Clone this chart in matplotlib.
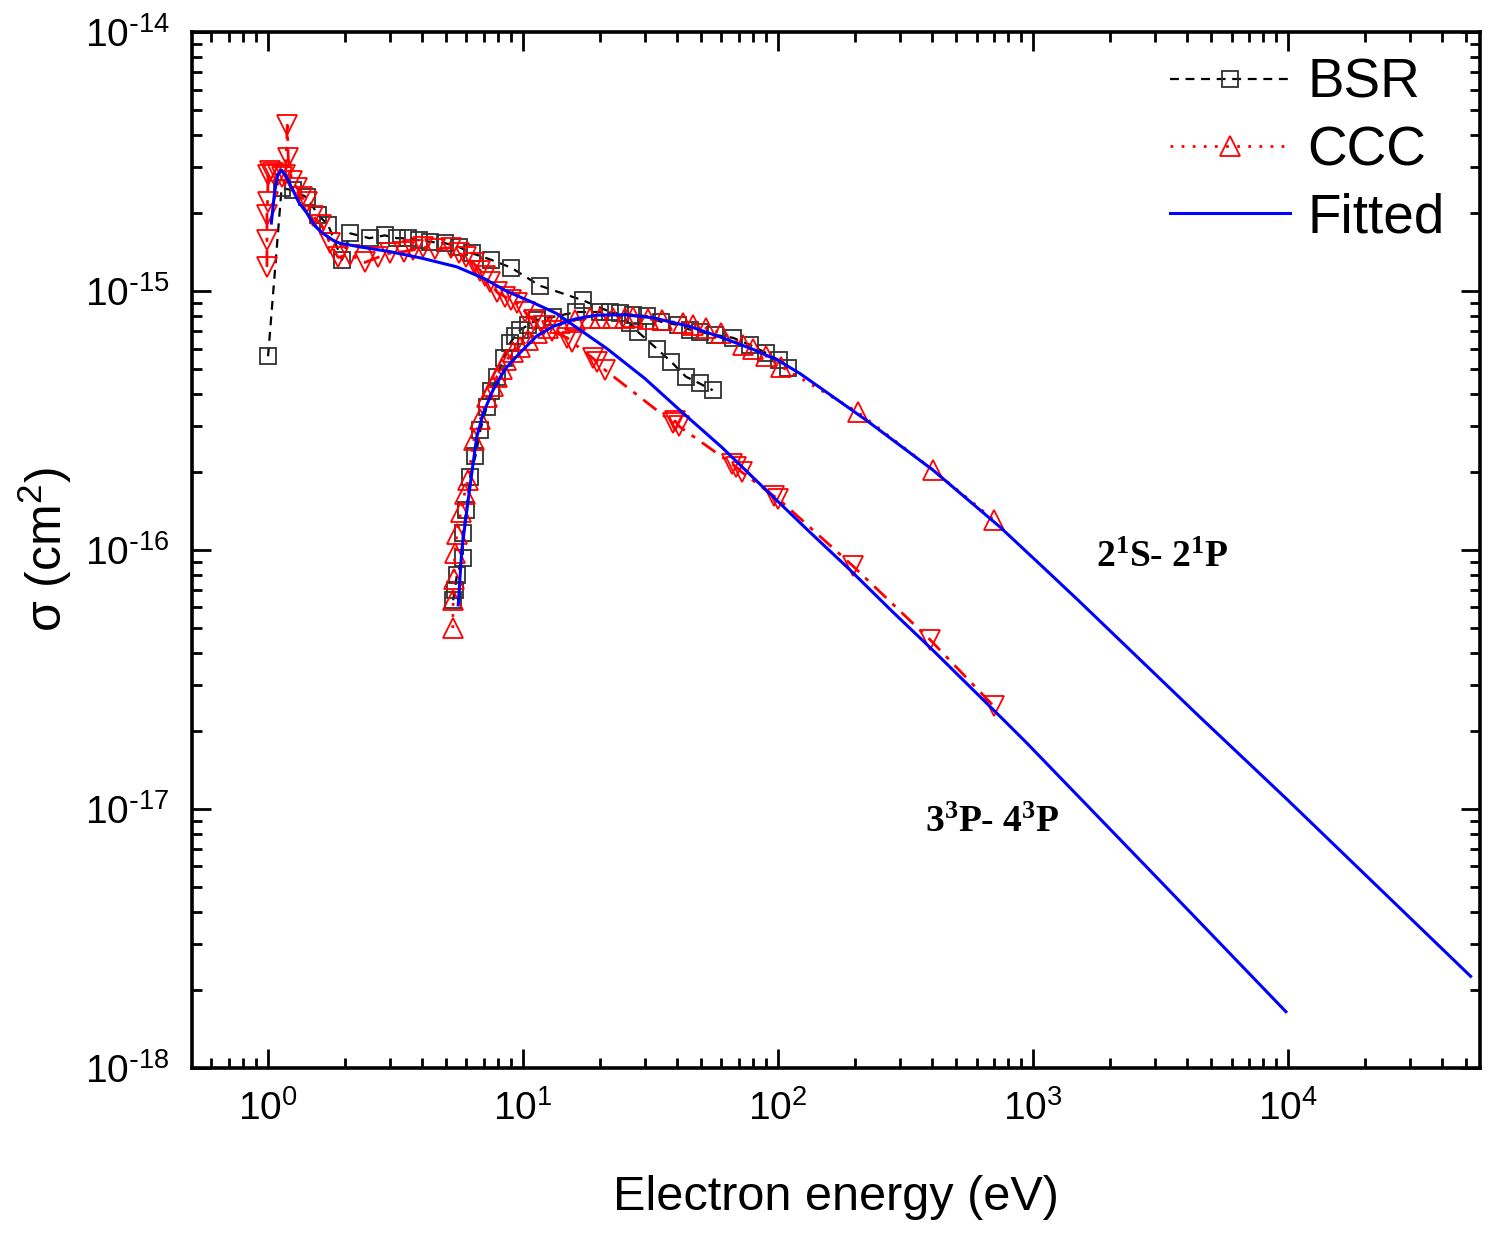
import matplotlib
matplotlib.use("Agg")
import math
import matplotlib.pyplot as plt
from matplotlib.ticker import FixedLocator, LogLocator, NullFormatter, FuncFormatter

plt.rcParams['font.family'] = ['Liberation Sans', 'DejaVu Sans']
plt.rcParams['mathtext.default'] = 'regular'
plt.rcParams['axes.unicode_minus'] = False

# ---------------- data ----------------
# Transition 3^3P - 4^3P (threshold ~1 eV)
bsr_a_e = [1.0, 1.13, 1.25, 1.42, 1.57, 1.72, 1.95, 2.1, 2.5, 2.87, 3.2, 3.54, 3.9,
           4.3, 4.95, 5.6, 6.3, 7.5, 9.0, 11.6, 17.2, 22, 26.3, 28.2, 33.4, 38.1,
           43.5, 49.2, 55.4]
bsr_a_s = [5.6e-16, 2.5e-15, 2.45e-15, 2.3e-15, 1.97e-15, 1.8e-15, 1.32e-15, 1.67e-15,
           1.6e-15, 1.64e-15, 1.6e-15, 1.6e-15, 1.57e-15, 1.55e-15, 1.53e-15, 1.48e-15,
           1.4e-15, 1.32e-15, 1.23e-15, 1.05e-15, 9.2e-16, 8.3e-16, 7.5e-16, 6.96e-16,
           6.0e-16, 5.33e-16, 4.67e-16, 4.4e-16, 4.14e-16]

ccc_a_e = [0.99, 0.99, 0.99, 0.995, 1.0, 1.02, 1.05, 1.09, 1.13, 1.17, 1.19, 1.2, 1.24,
           1.3, 1.36, 1.42, 1.5, 1.62, 1.75, 1.88, 2.1, 2.4, 2.7, 3.0, 3.4, 3.7, 4.05,
           4.5, 5.2, 5.6, 6.0, 6.4, 6.8, 7.1, 7.4, 7.9, 8.5, 9.0, 9.5, 10.2, 11, 12, 13,
           14.9, 15.5, 18.8, 19.5, 21, 38.7, 39.5, 41, 66, 68.6, 72, 96, 100, 196, 395, 700]
ccc_a_s = [1.24e-15, 1.57e-15, 1.96e-15, 2.2e-15, 2.8e-15, 2.9e-15, 2.85e-15, 2.8e-15,
           2.75e-15, 2.8e-15, 4.37e-15, 3.26e-15, 2.65e-15, 2.5e-15, 2.3e-15, 2.2e-15,
           1.95e-15, 1.8e-15, 1.53e-15, 1.35e-15, 1.38e-15, 1.29e-15, 1.35e-15, 1.4e-15,
           1.42e-15, 1.44e-15, 1.48e-15, 1.45e-15, 1.47e-15, 1.4e-15, 1.35e-15, 1.28e-15,
           1.2e-15, 1.14e-15, 1.08e-15, 9.9e-16, 9.5e-16, 9.2e-16, 9.0e-16, 8.3e-16,
           7.7e-16, 7.3e-16, 7.0e-16, 6.6e-16, 6.37e-16, 5.5e-16, 5.3e-16, 4.95e-16,
           3.1e-16, 3.15e-16, 3.0e-16, 2.15e-16, 2.09e-16, 2.0e-16, 1.62e-16, 1.58e-16,
           8.7e-17, 4.5e-17, 2.5e-17]

fit_a_e = [1.03, 1.06, 1.09, 1.13, 1.17, 1.24, 1.32, 1.42, 1.53, 1.64, 1.8, 1.91, 2.3,
           3.0, 4.0, 5.5, 7.0, 8.6, 11, 13.5, 17, 21.3, 30, 42.4, 60, 90, 130, 191, 280,
           405, 745, 944, 2870, 9807]
fit_a_s = [1.83e-15, 2.4e-15, 2.8e-15, 2.93e-15, 2.8e-15, 2.5e-15, 2.2e-15, 2.0e-15,
           1.78e-15, 1.67e-15, 1.57e-15, 1.53e-15, 1.48e-15, 1.42e-15, 1.34e-15, 1.24e-15,
           1.12e-15, 1.0e-15, 9.0e-16, 8.2e-16, 7.0e-16, 6.0e-16, 4.6e-16, 3.38e-16,
           2.5e-16, 1.7e-16, 1.2e-16, 8.4e-17, 5.8e-17, 4.1e-17, 2.27e-17, 1.80e-17,
           5.8e-18, 1.65e-18]

# Transition 2^1S - 2^1P (threshold ~5.3 eV)
bsr_b_e = [5.32, 5.4, 5.5, 5.8, 5.8, 6.0, 6.2, 6.5, 6.8, 7.2, 7.5, 7.9, 8.4, 8.9, 9.3,
           9.7, 10.5, 11.3, 13.1, 16.2, 20, 24, 27, 30.5, 34.9, 40.5, 45, 49.2, 56.6,
           66.5, 77.5, 90, 101, 109]
bsr_b_s = [6.4e-17, 7.0e-17, 8.0e-17, 9.3e-17, 1.16e-16, 1.43e-16, 1.92e-16, 2.3e-16,
           2.9e-16, 3.57e-16, 4.1e-16, 4.67e-16, 5.5e-16, 6.3e-16, 6.7e-16, 7.06e-16,
           7.4e-16, 7.73e-16, 7.95e-16, 8.3e-16, 8.3e-16, 8.2e-16, 8.1e-16, 8.0e-16,
           7.6e-16, 7.4e-16, 7.1e-16, 6.96e-16, 6.77e-16, 6.6e-16, 6.2e-16, 5.76e-16,
           5.4e-16, 5.05e-16]

ccc_b_e = [5.3, 5.32, 5.35, 5.4, 5.5, 5.7, 5.9, 6.1, 6.4, 6.8, 7.2, 7.6, 7.9, 8.3, 8.6,
           9.1, 9.7, 10.5, 11.3, 12.5, 13.9, 16, 18.3, 20, 22.5, 25, 27, 31, 35, 42.4,
           46.5, 52, 60, 73, 80, 90, 103, 206, 405, 700]
ccc_b_s = [5.0e-17, 6.4e-17, 7.7e-17, 9.7e-17, 1.15e-16, 1.4e-16, 1.65e-16, 1.87e-16,
           2.65e-16, 3.2e-16, 3.9e-16, 4.3e-16, 4.67e-16, 5.0e-16, 5.4e-16, 5.8e-16,
           6.1e-16, 6.5e-16, 6.9e-16, 7.2e-16, 7.5e-16, 7.7e-16, 7.86e-16, 7.9e-16,
           7.86e-16, 7.9e-16, 7.95e-16, 7.8e-16, 7.7e-16, 7.5e-16, 7.4e-16, 7.2e-16,
           6.9e-16, 6.2e-16, 6.0e-16, 5.6e-16, 5.1e-16, 3.4e-16, 2.04e-16, 1.31e-16]

fit_b_e = [5.57, 5.75, 6.0, 6.3, 6.58, 7.0, 7.63, 8.5, 9.7, 11.3, 13.1, 16, 19.4, 25,
           32.4, 45, 59, 80, 100, 122, 221, 404, 740, 1150, 1500, 4500, 1e4, 5.2e4]
fit_b_s = [6.14e-17, 1.0e-16, 1.39e-16, 2.0e-16, 2.73e-16, 3.4e-16, 4.15e-16, 5.0e-16,
           5.76e-16, 6.7e-16, 7.3e-16, 7.8e-16, 8.07e-16, 8.1e-16, 7.88e-16, 7.3e-16,
           6.66e-16, 5.95e-16, 5.4e-16, 4.8e-16, 3.18e-16, 2.04e-16, 1.23e-16, 8.2e-17,
           6.41e-17, 2.27e-17, 1.08e-17, 2.26e-18]

x_major = [1, 10, 100, 1000, 10000]
y_major = [1e-18, 1e-17, 1e-16, 1e-15, 1e-14]

legend_labels = ["BSR", "CCC", "Fitted"]
label_b = "2$^1$S- 2$^1$P"
label_a = "3$^3$P- 4$^3$P"
label_b_pos = (3200, 9.4e-17)
label_a_pos = (690, 8.9e-18)

# ---------------- figure ----------------
fig = plt.figure(figsize=(14.95, 12.33), dpi=100)
ax = fig.add_axes([0.1284, 0.1338, 0.8616, 0.8402])

sq = dict(marker='s', markersize=11.5, markerfacecolor='none', markeredgecolor='#303030',
          markeredgewidth=1.3)
ax.plot(bsr_a_e, bsr_a_s, color='black', ls=(0, (4, 3)), lw=1.6, **sq, zorder=2)
ax.plot(bsr_b_e, bsr_b_s, color='black', ls=(0, (4, 3)), lw=1.6, **sq, zorder=2,
        label=legend_labels[0])

ax.plot(ccc_a_e, ccc_a_s, color='red', ls=(0, (6, 3, 1.5, 3)), lw=2.0, marker='v',
        markersize=14, markerfacecolor='none', markeredgecolor='red',
        markeredgewidth=1.3, zorder=3)
ax.plot(ccc_b_e, ccc_b_s, color='red', ls=(0, (1, 3)), lw=2.0, marker='^',
        markersize=14, markerfacecolor='none', markeredgecolor='red',
        markeredgewidth=1.3, zorder=3, label=legend_labels[1])

ax.plot(fit_a_e, fit_a_s, color='#0000ff', lw=2.2, zorder=4)
ax.plot(fit_b_e, fit_b_s, color='#0000ff', lw=2.2, zorder=4, label=legend_labels[2])

ax.set_xscale('log')
ax.set_yscale('log')
ax.set_xlim(0.503, 5.66e4)
ax.set_ylim(1e-18, 1e-14)


def sci_label(v, pos):
    e = int(round(math.log10(v)))
    if e < 0:
        return r'$10^{\text{-}%d}$' % (-e)
    return r'$10^{%d}$' % e


ax.xaxis.set_major_locator(FixedLocator(x_major))
ax.yaxis.set_major_locator(FixedLocator(y_major))
ax.xaxis.set_major_formatter(FuncFormatter(sci_label))
ax.yaxis.set_major_formatter(FuncFormatter(sci_label))
ax.xaxis.set_minor_locator(LogLocator(base=10, subs=range(2, 10), numticks=100))
ax.yaxis.set_minor_locator(LogLocator(base=10, subs=range(2, 10), numticks=100))
ax.xaxis.set_minor_formatter(NullFormatter())
ax.yaxis.set_minor_formatter(NullFormatter())

for s in ax.spines.values():
    s.set_linewidth(2.6)
ax.tick_params(which='both', direction='in', top=True, right=True, width=2.0)
ax.tick_params(which='major', length=14, labelsize=28, pad=16)
ax.tick_params(which='minor', length=7)

ax.set_xlabel("Electron energy (eV)", fontsize=35, labelpad=34)
ax.set_ylabel("σ (cm$^2$)", fontsize=36, labelpad=8)

for txt, pos in ((label_b, label_b_pos), (label_a, label_a_pos)):
    ax.text(pos[0], pos[1], txt, family=['Liberation Serif', 'DejaVu Serif'],
            weight='bold', fontsize=27, ha='center', va='center')

ax.legend(loc='upper right', bbox_to_anchor=(0.998, 1.007), frameon=False,
          fontsize=39.5, handlelength=2.19, handletextpad=0.31, labelspacing=0.28,
          borderaxespad=0.2)

fig.savefig("out.png", dpi=100)
